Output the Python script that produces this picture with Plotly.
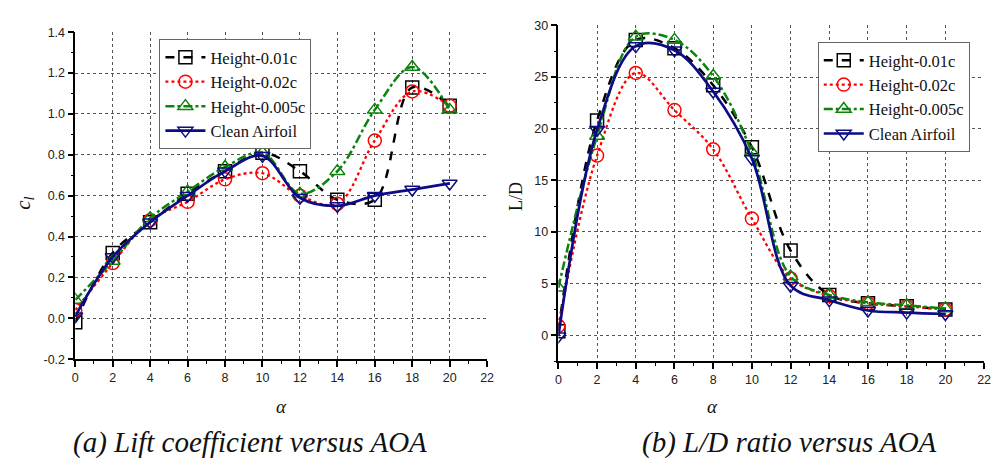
import plotly.graph_objects as go

# ---------------- data ----------------
aoa = [0, 2, 4, 6, 8, 10, 12, 14, 16, 18, 20]
series_names = ["Height-0.01c", "Height-0.02c", "Height-0.005c", "Clean Airfoil"]

cl_h001 = [-0.02, 0.32, 0.47, 0.61, 0.72, 0.81, 0.72, 0.58, 0.58, 1.13, 1.04]
cl_h002 = [0.04, 0.27, 0.48, 0.57, 0.68, 0.71, 0.60, 0.56, 0.87, 1.11, 1.04]
cl_h0005 = [0.09, 0.28, 0.49, 0.62, 0.74, 0.81, 0.61, 0.72, 1.02, 1.23, 1.02]
cl_clean = [0.01, 0.30, 0.47, 0.60, 0.72, 0.795, 0.59, 0.55, 0.60, 0.63, 0.66]

ld_h001 = [0.4, 20.8, 28.6, 27.8, 24.2, 18.2, 8.2, 3.9, 3.1, 2.8, 2.5]
ld_h002 = [0.9, 17.4, 25.4, 21.8, 18.0, 11.3, 5.5, 3.8, 3.1, 2.8, 2.5]
ld_h0005 = [4.6, 19.3, 28.9, 28.6, 25.1, 17.7, 5.7, 3.9, 3.2, 2.9, 2.6]
ld_clean = [-0.1, 19.9, 28.0, 27.6, 23.6, 17.1, 4.8, 3.4, 2.4, 2.2, 2.06]

x_ticks = list(range(0, 23, 2))
cl_ticks = [-0.2, 0.0, 0.2, 0.4, 0.6, 0.8, 1.0, 1.2, 1.4]
ld_ticks = [0, 5, 10, 15, 20, 25, 30]

# ---------------- styles ----------------
colors = ["#000000", "#ff0000", "#0a840a", "#0c0c86"]
dashes = ["dash", "dot", "dashdot", "solid"]
symbols = ["square-open", "circle-open", "triangle-up-open", "triangle-down-open"]
widths = [2.5, 2.3, 2.5, 2.7]

W, H = 999, 468
def px(x):
    return x / W
def py(y):
    return 1 - y / H

fig = go.Figure()

cl_all = [cl_h001, cl_h002, cl_h0005, cl_clean]
ld_all = [ld_h001, ld_h002, ld_h0005, ld_clean]

for i in range(4):
    fig.add_trace(go.Scatter(
        x=aoa, y=cl_all[i], name=series_names[i], mode="lines+markers",
        line=dict(color=colors[i], dash=dashes[i], width=widths[i], shape="spline", smoothing=1.0),
        marker=dict(symbol=symbols[i], size=13, color=colors[i], line=dict(width=1.5, color=colors[i])),
        xaxis="x", yaxis="y", legend="legend",
    ))
for i in range(4):
    fig.add_trace(go.Scatter(
        x=aoa, y=ld_all[i], name=series_names[i], mode="lines+markers",
        line=dict(color=colors[i], dash=dashes[i], width=widths[i], shape="spline", smoothing=1.0),
        marker=dict(symbol=symbols[i], size=13, color=colors[i], line=dict(width=1.5, color=colors[i])),
        xaxis="x2", yaxis="y2", legend="legend2",
    ))

tickfont = dict(family="Liberation Sans", size=12.5, color="#222")
common_x = dict(
    range=[0, 22], tickvals=x_ticks, ticks="outside", ticklen=6, tickwidth=1.5,
    tickcolor="#000", showline=True, linecolor="#000", linewidth=1.5,
    showgrid=True, gridcolor="#555", griddash="dot", gridwidth=1,
    zeroline=False, tickfont=tickfont,
    minor=dict(dtick=1, ticks="outside", ticklen=3, tickcolor="#000", tickwidth=1.2, showgrid=False),
)

serif = "Liberation Serif"

fig.update_layout(
    width=W, height=H, margin=dict(l=0, r=0, t=0, b=0),
    paper_bgcolor="white", plot_bgcolor="white",
    xaxis=dict(common_x, domain=[px(73), px(489)], anchor="y"),
    yaxis=dict(
        range=[-0.2, 1.4], tickvals=cl_ticks, ticktext=[f"{v:.1f}" for v in cl_ticks],
        domain=[py(363), py(26)], anchor="x",
        ticks="outside", ticklen=6, tickwidth=1.5, tickcolor="#000",
        showline=True, linecolor="#000", linewidth=1.5,
        showgrid=True, gridcolor="#555", griddash="dot", gridwidth=1,
        zeroline=False, tickfont=tickfont,
        minor=dict(dtick=0.1, tick0=0, ticks="outside", ticklen=3, tickcolor="#000", tickwidth=1.2, showgrid=False),
    ),
    xaxis2=dict(common_x, domain=[px(561), px(991)], anchor="y2"),
    yaxis2=dict(
        range=[-2.5, 30], tickvals=ld_ticks,
        domain=[py(365), py(19)], anchor="x2",
        ticks="outside", ticklen=6, tickwidth=1.5, tickcolor="#000",
        showline=True, linecolor="#000", linewidth=1.5,
        showgrid=True, gridcolor="#555", griddash="dot", gridwidth=1,
        zeroline=False, tickfont=tickfont,
        minor=dict(dtick=2.5, tick0=0, ticks="outside", ticklen=3, tickcolor="#000", tickwidth=1.2, showgrid=False),
    ),
    legend=dict(
        x=px(158), y=py(33), xanchor="left", yanchor="top",
        bgcolor="white", bordercolor="#666", borderwidth=1,
        font=dict(family=serif, size=16.5, color="#111"),
        itemwidth=40, tracegroupgap=0,
    ),
    legend2=dict(
        x=px(823), y=py(36), xanchor="left", yanchor="top",
        bgcolor="white", bordercolor="#666", borderwidth=1,
        font=dict(family=serif, size=16.5, color="#111"),
        itemwidth=40, tracegroupgap=0,
    ),
    showlegend=True,
)

annots = [
    dict(text="<i>c<sub>l</sub></i>", x=px(21), y=py(202), textangle=-90, font=dict(family=serif, size=21, color="#111")),
    dict(text="L/D", x=px(518), y=py(195), textangle=-90, font=dict(family=serif, size=18, color="#111")),
    dict(text="<i>α</i>", x=px(281), y=py(412), font=dict(family=serif, size=19, color="#111")),
    dict(text="<i>α</i>", x=px(717), y=py(412), font=dict(family=serif, size=19, color="#111")),
    dict(text="<i>(a) Lift coefficient versus AOA</i>", x=px(250), y=py(449), font=dict(family=serif, size=29, color="#111")),
    dict(text="<i>(b) L/D ratio versus AOA</i>", x=px(794), y=py(449), font=dict(family=serif, size=29, color="#111")),
]
for a in annots:
    fig.add_annotation(xref="paper", yref="paper", showarrow=False, xanchor="center", yanchor="middle", **a)

fig.write_html("out.html")
